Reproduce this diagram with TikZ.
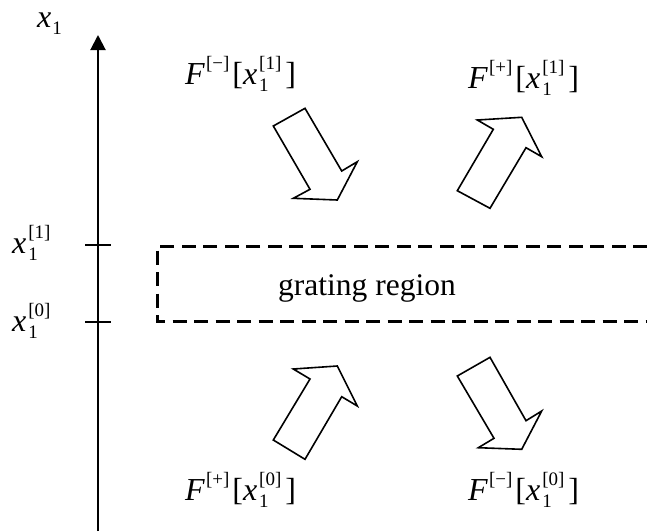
\documentclass[tikz,border=0pt]{standalone}
\usepackage{fontspec}
\setmainfont{Liberation Serif}
\usetikzlibrary{arrows.meta}
\newcommand{\bigsz}{\fontsize{32}{35}\selectfont}
\newcommand{\smsz}{\fontsize{19}{21}\selectfont}
\newcommand{\xone}[1]{\textit{x}\kern2pt\rlap{\raisebox{-7pt}{\smsz 1}}\raisebox{15pt}{\smsz [#1]}}
\newcommand{\Flab}[2]{\textit{F}\kern1pt\raisebox{15pt}{\smsz [#1]}\kern3pt[\xone{#2}\kern4pt]}
\tikzset{
  fat/.style={draw=black, line width=1.6pt, fill=white, line join=miter},
  lab/.style={anchor=base west, inner sep=0pt, font=\bigsz},
}
\begin{document}
\begin{tikzpicture}[x=1pt,y=-1pt]
\useasboundingbox (0,0) rectangle (647,531);
% axis
\coordinate (axbot) at (98,531);
\coordinate (axtop) at (98,35);
\draw[line width=2pt, -{Triangle[length=15pt,width=15pt]}] (axbot) -- (axtop);
\coordinate (t1a) at (85,245); \coordinate (t1b) at (111,245);
\coordinate (t0a) at (85,322); \coordinate (t0b) at (111,322);
\draw[line width=1.6pt] (t1a) -- (t1b);
\draw[line width=1.6pt] (t0a) -- (t0b);
% labels
\node[lab] (xax) at (37,27) {\textit{x}\kern1pt\raisebox{-7pt}{\smsz 1}};
\node[lab] (xt1) at (12,253) {\xone{1}};
\node[lab] (xt0) at (12,331) {\xone{0}};
% grating region
\coordinate (gr1) at (647,246);
\coordinate (gr2) at (157,246);
\coordinate (gr3) at (157,321);
\coordinate (gr4) at (647,321);
\draw[line width=3pt, dash pattern=on 14pt off 7.5pt] (gr1) -- (gr2) -- (gr3) -- (gr4);
\node[anchor=base west, inner sep=0pt, font=\fontsize{31.5}{34}\selectfont] (gr) at (278,295) {grating region};
% flux labels
\node[lab] (fml) at (185,84) {\Flab{−}{1}};
\node[lab] (fpl) at (468,88) {\Flab{+}{1}};
\node[lab] (fp0) at (185,500) {\Flab{+}{0}};
\node[lab] (fm0) at (468,500) {\Flab{−}{0}};
% block arrows
\draw[fat] (273.3,126) -- (305,108.3) -- (341.7,171) -- (357.3,161.7) -- (337.3,200) -- (293.3,198.3) -- (310,189.3) -- cycle;
\draw[fat] (457.3,190.7) -- (490,208.3) -- (526,147.7) -- (541.7,156.7) -- (521.7,117.3) -- (477.3,120) -- (493.3,129.3) -- cycle;
\draw[fat] (273.3,440) -- (305,459.3) -- (341.7,396.7) -- (357.3,406) -- (337.3,366) -- (293.3,369) -- (310,379) -- cycle;
\draw[fat] (457.3,376) -- (490,357.3) -- (526,420.7) -- (541.7,411) -- (521.7,449.3) -- (478.3,447.7) -- (494,438.3) -- cycle;
\end{tikzpicture}
\end{document}
